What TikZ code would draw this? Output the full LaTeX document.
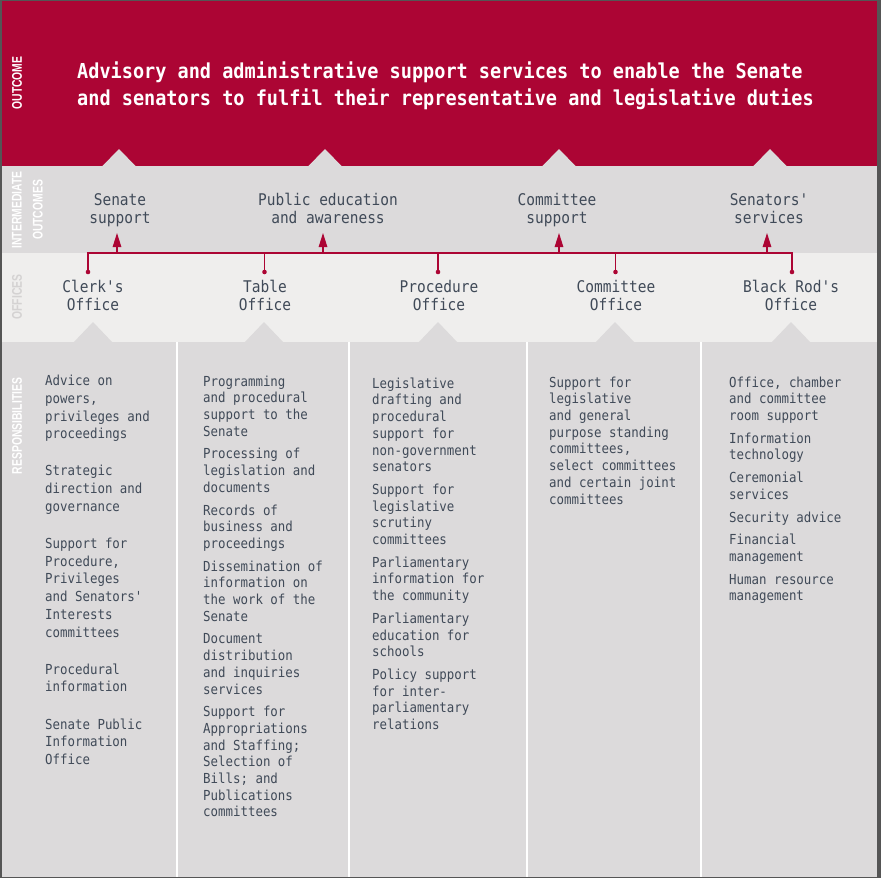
\documentclass[tikz,border=0pt]{standalone}
\usepackage{fontspec}
\usepackage{xcolor}
\usetikzlibrary{arrows.meta}
\newfontfamily\chartfont[FakeStretch=0.9]{DejaVu Sans Mono}
\newfontfamily\sidefont[FakeStretch=0.74]{Liberation Sans}
\definecolor{senatered}{RGB}{172,5,52}
\definecolor{bandgrey}{RGB}{220,218,219}
\definecolor{bandlight}{RGB}{239,238,237}
\definecolor{framegrey}{RGB}{85,85,85}
\definecolor{textslate}{RGB}{64,74,88}
\definecolor{sidelight}{RGB}{212,210,210}
\tikzset{
    sidelabel/.style={rotate=90, align=center, inner sep=0pt, text=white,
        font=\sidefont\bfseries\fontsize{14}{21}\selectfont},
    outcome/.style={anchor=north west, align=left, inner sep=0pt, text=white,
        font=\chartfont\bfseries\fontsize{20.6}{27}\selectfont},
    label/.style={anchor=north, align=center, inner sep=0pt, text=textslate,
        font=\chartfont\fontsize{16.1}{18}\selectfont},
    duties/.style={anchor=north west, align=left, inner sep=0pt, text=textslate,
        font=\chartfont\fontsize{13.8}{16.7}\selectfont},
    link/.style={draw=senatered, line width=1.3pt},
    uplink/.style={link, -{Triangle[length=14pt,width=8.5pt]}},
}

\begin{document}
\begin{tikzpicture}[x=1pt, y=-1pt]
        % Sizes
        \pgfmathsetmacro{\wide}{877}
        \pgfmathsetmacro{\uptri}{17.5}
        \pgfmathsetmacro{\officetri}{20}
        \useasboundingbox (0,0) rectangle (881,878);

        % bands
        \fill[framegrey] (0,0) rectangle (881,878);
        \fill[senatered] (1.5,1) rectangle (\wide,166);
        \fill[bandgrey] (1.5,166) rectangle (\wide,253);
        \fill[bandlight] (1.5,253) rectangle (\wide,342);
        \fill[bandgrey] (1.5,342) rectangle (\wide,876.5);
        \foreach \x in {119,325,559,770}
            \fill[bandgrey] (\x-\uptri,167) -- (\x,149) -- (\x+\uptri,167) -- cycle;
        \foreach \x in {93,264,438,615,791}
            \fill[bandgrey] (\x-\officetri,343) -- (\x,322) -- (\x+\officetri,343) -- cycle;
        \foreach \x in {177,349,527,701}
            \draw[white, line width=1.5pt] (\x,342) -- (\x,876.5);

        % side labels
        \node[sidelabel] (sideoutcome) at (17,83) {OUTCOME};
        \node[sidelabel] (sideintermediate) at (27.5,210) {INTERMEDIATE\\OUTCOMES};
        \node[sidelabel, text=sidelight] (sideoffices) at (17,297) {OFFICES};
        \node[sidelabel] (sideduties) at (17,426) {RESPONSIBILITIES};

        % outcome
        \node[outcome] (outcome) at (77,62) {Advisory and administrative support services to enable the Senate\\and senators to fulfil their representative and legislative duties};

        % intermediate outcomes
        \node[label] (senate) at (120,193) {Senate\\support};
        \node[label] (public) at (328,193) {Public education\\and awareness};
        \node[label] (committee) at (557,193) {Committee\\support};
        \node[label] (senators) at (769,193) {Senators'\\services};

        % offices
        \node[label] (clerk) at (93,280) {Clerk's\\Office};
        \node[label] (table) at (265,280) {Table\\Office};
        \node[label] (procedure) at (439,280) {Procedure\\Office};
        \node[label] (committeeoffice) at (616,280) {Committee\\Office};
        \node[label] (blackrod) at (791,280) {Black Rod's\\Office};

        % connectors
        \coordinate (bus) at (0,253);
        \coordinate (clerkdot) at (88,272);
        \coordinate (tabledot) at (264.5,272);
        \coordinate (proceduredot) at (438,272);
        \coordinate (committeedot) at (615.5,272);
        \coordinate (blackroddot) at (792,272);
        \coordinate (senatein) at (117,233);
        \coordinate (publicin) at (323,233);
        \coordinate (committeein) at (559,233);
        \coordinate (senatorsin) at (767,233);
        \draw[link] (clerkdot) |- (blackroddot |- bus) -- (blackroddot);
        \foreach \d in {tabledot,proceduredot,committeedot}
            \draw[link] (\d) -- (\d |- bus);
        \foreach \d in {clerkdot,tabledot,proceduredot,committeedot,blackroddot}
            \fill[senatered] (\d) circle (2.3);
        \foreach \a in {senatein,publicin,committeein,senatorsin}
            \draw[uplink] (\a |- bus) -- (\a);

        % responsibilities
        \node[duties, font=\chartfont\fontsize{13.8}{17.7}\selectfont] (clerkduties) at (45,375) {Advice on\\powers,\\privileges and\\proceedings\\[19.5pt]Strategic\\direction and\\governance\\[19.5pt]Support for\\Procedure,\\Privileges\\and Senators'\\Interests\\committees\\[19.5pt]Procedural\\information\\[19.5pt]Senate Public\\Information\\Office};
        \node[duties] (tableduties) at (203,375.5) {Programming\\and procedural\\support to the\\Senate\\[6pt]Processing of\\legislation and\\documents\\[6pt]Records of\\business and\\proceedings\\[6pt]Dissemination of\\information on\\the work of the\\Senate\\[6pt]Document\\distribution\\and inquiries\\services\\[6pt]Support for\\Appropriations\\and Staffing;\\Selection of\\Bills; and\\Publications\\committees};
        \node[duties] (procedureduties) at (372,377.5) {Legislative\\drafting and\\procedural\\support for\\non-government\\senators\\[6pt]Support for\\legislative\\scrutiny\\committees\\[6pt]Parliamentary\\information for\\the community\\[6pt]Parliamentary\\education for\\schools\\[6pt]Policy support\\for inter-\\parliamentary\\relations};
        \node[duties] (committeeduties) at (549,376.5) {Support for\\legislative\\and general\\purpose standing\\committees,\\select committees\\and certain joint\\committees};
        \node[duties] (blackrodduties) at (729,376.5) {Office, chamber\\and committee\\room support\\[6pt]Information\\technology\\[6pt]Ceremonial\\services\\[6pt]Security advice\\[6pt]Financial\\management\\[6pt]Human resource\\management};
\end{tikzpicture}
\end{document}
